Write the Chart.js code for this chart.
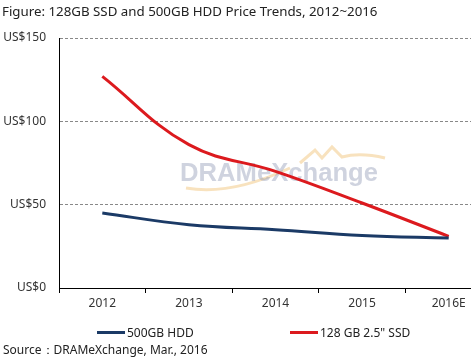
<!DOCTYPE html>
<html>
<head>
<meta charset="utf-8">
<script src="https://cdn.jsdelivr.net/npm/chart.js@4.4.1/dist/chart.umd.min.js"></script>
<style>
    html, body { margin: 0; padding: 0; width: 471px; height: 360px; overflow: hidden; background: #fff; font-family: "Noto Sans", sans-serif; color: #222; }
    #title { position: absolute; left: 2px; top: 2px; font-size: 13.3px; white-space: nowrap; }
    #wrap { position: absolute; left: 0; top: 0; width: 492px; height: 360px; }
    .leg { position: absolute; top: 324px; font-size: 12px; white-space: nowrap; }
    .leg i { display: inline-block; width: 28px; height: 3px; vertical-align: middle; margin-right: 2px; position: relative; top: -1px; }
    #source { position: absolute; left: 3px; top: 341px; font-size: 12px; white-space: nowrap; }
</style>
</head>
<body>
<div id="wrap"><canvas id="chart"></canvas></div>
<div id="title">Figure: 128GB SSD and 500GB HDD Price Trends, 2012~2016</div>
<div class="leg" style="left:97px"><i style="background:#1b3a66"></i>500GB HDD</div>
<div class="leg" style="left:290px"><i style="background:#dc1a1e"></i>128 GB 2.5" SSD</div>
<div id="source">Source：DRAMeXchange, Mar., 2016</div>
<script>
const years = ['2012', '2013', '2014', '2015', '2016E'];
const hddPrices = [45, 38, 35, 31.5, 30];
const ssdPrices = [127, 86, 70, 51, 31];
const yTickValues = [0, 50, 100, 150];

// faint logo behind the lines
const watermark = {
    id: 'watermark',
    beforeDatasetsDraw(chart) {
        const ctx = chart.ctx;
        ctx.save();
        ctx.strokeStyle = 'rgba(240,190,110,0.45)';
        ctx.lineWidth = 3;
        ctx.beginPath();
        ctx.moveTo(186, 188);
        ctx.quadraticCurveTo(230, 196, 290, 168);
        ctx.stroke();
        ctx.beginPath();
        ctx.moveTo(300, 163);
        ctx.lineTo(315, 150);
        ctx.lineTo(322, 158);
        ctx.lineTo(332, 147);
        ctx.lineTo(342, 157);
        ctx.quadraticCurveTo(360, 152, 385, 158);
        ctx.stroke();
        ctx.font = 'bold 25px "Liberation Sans", sans-serif';
        ctx.fillStyle = 'rgba(135,145,175,0.4)';
        ctx.textBaseline = 'middle';
        const w = ctx.measureText('DRAMeXchange').width;
        ctx.save();
        ctx.translate(180, 174);
        ctx.scale(198 / w, 1);
        ctx.fillText('DRAMeXchange', 0, 0);
        ctx.restore();
        ctx.restore();
    }
};

new Chart(document.getElementById('chart'), {
    type: 'line',
    data: {
        labels: years,
        datasets: [
            {
                label: '500GB HDD',
                data: hddPrices,
                borderColor: '#1b3a66',
                borderWidth: 3,
                pointRadius: 0,
                tension: 0.4
            },
            {
                label: '128 GB 2.5" SSD',
                data: ssdPrices,
                borderColor: '#dc1a1e',
                borderWidth: 3,
                pointRadius: 0,
                tension: 0.4
            }
        ]
    },
    options: {
        responsive: true,
        maintainAspectRatio: false,
        animation: false,
        layout: { padding: { top: 38, left: 0, right: 0, bottom: 42 } },
        plugins: {
            legend: { display: false },
            tooltip: { enabled: false }
        },
        scales: {
            x: {
                offset: true,
                grid: { offset: true, drawOnChartArea: false, color: '#000', tickLength: 5 },
                border: { color: '#000', width: 1 },
                ticks: { color: '#333', font: { family: 'Noto Sans', size: 12 }, padding: 3 },
                afterFit(scale) { scale.height = 30; }
            },
            y: {
                min: 0,
                max: 150,
                afterBuildTicks(scale) { scale.ticks = yTickValues.map(v => ({ value: v })); },
                grid: {
                    drawTicks: false,
                    color: ctx => ctx.tick && ctx.tick.value === 0 ? 'rgba(0,0,0,0)' : '#888',
                    lineWidth: 1
                },
                border: { color: '#000', width: 1, dash: [3, 2] },
                ticks: {
                    color: '#333',
                    font: { family: 'Noto Sans', size: 12 },
                    padding: 13,
                    callback: v => 'US$' + v
                },
                afterFit(scale) { scale.width = 59; }
            }
        }
    },
    plugins: [watermark]
});
</script>
</body>
</html>
